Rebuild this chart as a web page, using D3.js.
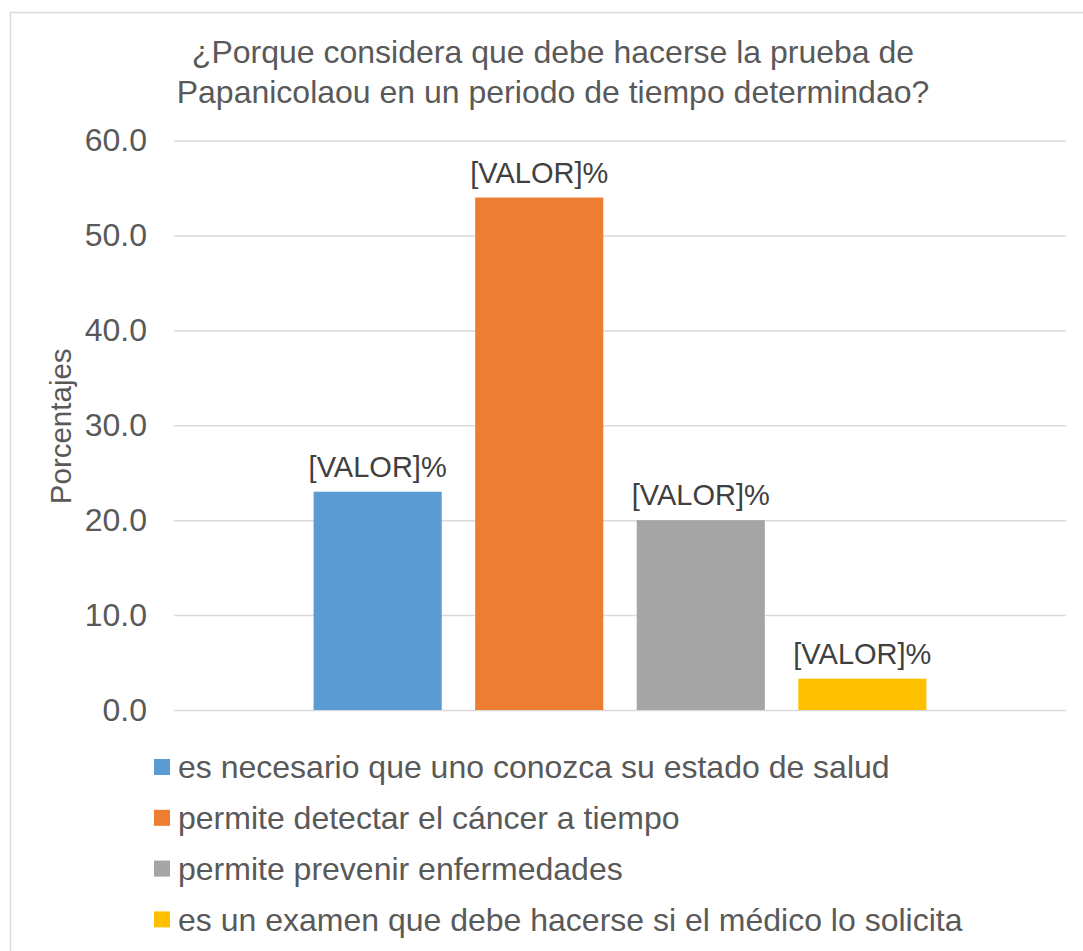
<!DOCTYPE html>
<html>
<head>
<meta charset="utf-8">
<script src="https://cdn.jsdelivr.net/npm/d3@7"></script>
<style>
  html, body { margin: 0; padding: 0; background: #fff; }
  svg { display: block; font-family: "Liberation Sans", Arial, sans-serif; }
</style>
</head>
<body>
<svg id="chart" width="1083" height="951"></svg>
<script>
const titleLines = ["¿Porque considera que debe hacerse la prueba de", "Papanicolaou en un periodo de tiempo determindao?"];
const seriesNames = [
  "es necesario que uno conozca su estado de salud",
  "permite detectar el cáncer a tiempo",
  "permite prevenir enfermedades",
  "es un examen que debe hacerse si el médico lo solicita"
];
const seriesValues = [23.0, 54.0, 20.0, 3.3];
const seriesColors = ["#5b9bd5", "#ed7d31", "#a5a5a5", "#ffc000"];
const dataLabels = ["[VALOR]%", "[VALOR]%", "[VALOR]%", "[VALOR]%"];
const yTicks = [0, 10, 20, 30, 40, 50, 60];
const yAxisTitle = "Porcentajes";

const svg = d3.select("#chart");
const textColor = "#595959";

// chart area border
svg.append("rect").attr("x", 10.5).attr("y", 12.5).attr("width", 1100).attr("height", 1000)
  .attr("fill", "#fff").attr("stroke", "#d9d9d9").attr("stroke-width", 1.5);

const plot = { left: 174, right: 1066, top: 140.6, bottom: 710 };

const y = d3.scaleLinear().domain([0, 60]).range([plot.bottom, plot.top]);
const x = d3.scaleBand().domain(seriesNames).range([plot.left, plot.right])
  .paddingInner(0.207).paddingOuter(0.864);

// gridlines
const yAxis = d3.axisLeft(y).tickValues(yTicks).tickFormat(d3.format(".1f"))
  .tickSize(-(plot.right - plot.left)).tickPadding(27);
const gy = svg.append("g").attr("transform", `translate(${plot.left},0)`).call(yAxis);
gy.select(".domain").remove();
gy.selectAll(".tick line").attr("stroke", "#d9d9d9").attr("stroke-width", 1.5);
gy.selectAll(".tick text").attr("fill", textColor).attr("font-size", 32)
  .attr("font-family", "Liberation Sans, Arial, sans-serif");

// bars
svg.append("g").selectAll("rect").data(seriesNames).join("rect")
  .attr("x", d => x(d))
  .attr("width", x.bandwidth())
  .attr("y", (d, i) => y(seriesValues[i]))
  .attr("height", (d, i) => y(0) - y(seriesValues[i]))
  .attr("fill", (d, i) => seriesColors[i]);

// data labels
svg.append("g").selectAll("text").data(seriesNames).join("text")
  .attr("x", d => x(d) + x.bandwidth() / 2)
  .attr("y", (d, i) => y(seriesValues[i]) - 15)
  .attr("text-anchor", "middle")
  .attr("font-size", 29)
  .attr("fill", "#404040")
  .text((d, i) => dataLabels[i]);

// title
svg.append("g").selectAll("text").data(titleLines).join("text")
  .attr("x", 553)
  .attr("y", (d, i) => 63 + i * 40)
  .attr("text-anchor", "middle")
  .attr("font-size", 32)
  .attr("fill", textColor)
  .text(d => d);

// y axis title
svg.append("text")
  .attr("transform", `translate(71,${(plot.top + plot.bottom) / 2 + 1}) rotate(-90)`)
  .attr("text-anchor", "middle")
  .attr("font-size", 29.5)
  .attr("fill", textColor)
  .text(yAxisTitle);

// legend
const legend = svg.append("g").selectAll("g").data(seriesNames).join("g")
  .attr("transform", (d, i) => `translate(154,${767 + i * 50.8})`);
legend.append("rect").attr("x", 0).attr("y", -8).attr("width", 16).attr("height", 16)
  .attr("fill", (d, i) => seriesColors[i]);
legend.append("text").attr("x", 24).attr("y", 0).attr("dy", "0.35em")
  .attr("font-size", 32).attr("fill", textColor).text(d => d);
</script>
</body>
</html>
